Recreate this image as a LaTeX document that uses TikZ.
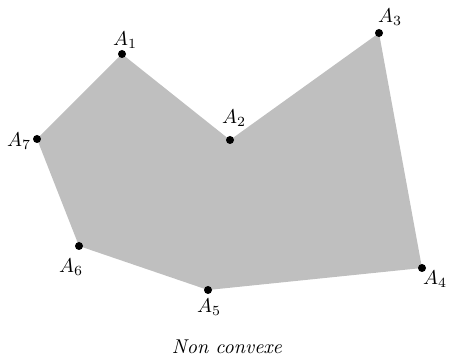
\documentclass[tikz,border=0pt]{standalone}
\begin{document}
\begin{tikzpicture}[x=0.5pt,y=-0.5pt,
  pt/.style={circle,fill=black,inner sep=0pt,minimum size=4pt},
  lab/.style={inner sep=0pt}]
\useasboundingbox (0,0) rectangle (449,357);
\coordinate (A1) at (122,54);
\coordinate (A2) at (230,140);
\coordinate (A3) at (379,33);
\coordinate (A4) at (422,268);
\coordinate (A5) at (208,290);
\coordinate (A6) at (79,246);
\coordinate (A7) at (37,139);
\fill[black!25] (A1) -- (A2) -- (A3) -- (A4) -- (A5) -- (A6) -- (A7) -- cycle;
\foreach \p in {A1,A2,A3,A4,A5,A6,A7} \node[pt] (d\p) at (\p) {};
\node[lab] (l1) at (125,40) {$A_1$};
\node[lab] (l2) at (234,118) {$A_2$};
\node[lab] (l3) at (390,17) {$A_3$};
\node[lab] (l4) at (435,279) {$A_4$};
\node[lab] (l5) at (209,307) {$A_5$};
\node[lab] (l6) at (71,267) {$A_6$};
\node[lab] (l7) at (19,141) {$A_7$};
\node[lab] (cap) at (227,347) {\textit{Non convexe}};
\end{tikzpicture}
\end{document}
